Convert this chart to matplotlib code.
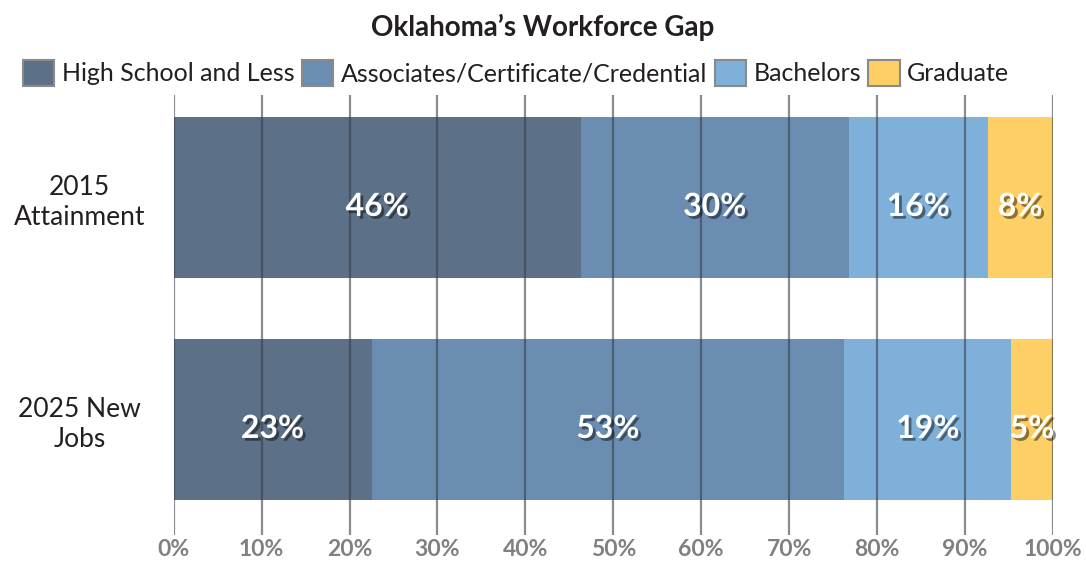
import numpy as np
import matplotlib
matplotlib.use("Agg")
import matplotlib.pyplot as plt
import matplotlib.patheffects as pe
from matplotlib.patches import Patch

plt.rcParams['font.family'] = ['Lato', 'DejaVu Sans']

# data
groups = ['2015\nAttainment', '2025 New\nJobs']
levels = ['High School and Less', 'Associates/Certificate/Credential', 'Bachelors', 'Graduate']
hs = [46.3, 22.5]
assoc = [30.5, 53.8]
bach = [15.8, 19.0]
grad = [7.4, 4.7]
hs_lbl = [46, 23]
assoc_lbl = [30, 53]
bach_lbl = [16, 19]
grad_lbl = [8, 5]
ticks = [0, 10, 20, 30, 40, 50, 60, 70, 80, 90, 100]

colors = ['#5c7087', '#6a8db1', '#7eb0da', '#fdcf64']
series = [hs, assoc, bach, grad]
labels = [hs_lbl, assoc_lbl, bach_lbl, grad_lbl]

fig = plt.figure(figsize=(10.86, 5.62), dpi=100)
ax = fig.add_axes([0.160, 0.048, 0.8094, 0.783])

ypos = np.array([1, 0])
left = np.zeros(2)
shadow = [pe.withSimplePatchShadow(offset=(2, -2), shadow_rgbFace='black', alpha=0.45)]
for vals, lbls, c in zip(series, labels, colors):
    vals = np.array(vals)
    ax.barh(ypos, vals, left=left, height=0.725, color=c, linewidth=0, zorder=1)
    for y, l, v, t in zip(ypos, left, vals, lbls):
        ax.text(l + v / 2, y - 0.04, f'{t}%', ha='center', va='center', color='white',
                fontsize=23, fontweight='bold', zorder=4, path_effects=shadow)
    left += vals

for t in ticks:
    ax.axvline(t, color='#3a3f4a', alpha=0.6, linewidth=1.6, zorder=2)

ax.set_xlim(0, 100)
ax.set_ylim(-0.52, 1.462)
ax.set_xticks(ticks)
ax.set_xticklabels([f'{t}%' for t in ticks], fontsize=16.5, fontweight='bold', color='#808080')
ax.tick_params(axis='x', length=0, pad=3)
ax.set_yticks(ypos)
ax.set_yticklabels(groups, fontsize=19, color='#231f20', ha='center', linespacing=1.25)
ax.tick_params(axis='y', length=0, pad=68)
for s in ax.spines.values():
    s.set_visible(False)

fig.suptitle("Oklahoma\u2019s Workforce Gap", x=0.5, y=0.952, va='center', fontsize=20,
             fontweight='bold', color='#231f20')

handles = [Patch(facecolor=c, edgecolor='#8a8a8a', linewidth=1.5) for c in colors]
fig.legend(handles, levels, loc='center left', bbox_to_anchor=(0.012, 0.87), ncol=4, frameon=False,
           fontsize=18, handlelength=1.25, handleheight=1.25, handletextpad=0.3,
           columnspacing=0.3, borderaxespad=0, labelcolor='#231f20')

fig.savefig('out.png', dpi=100)
